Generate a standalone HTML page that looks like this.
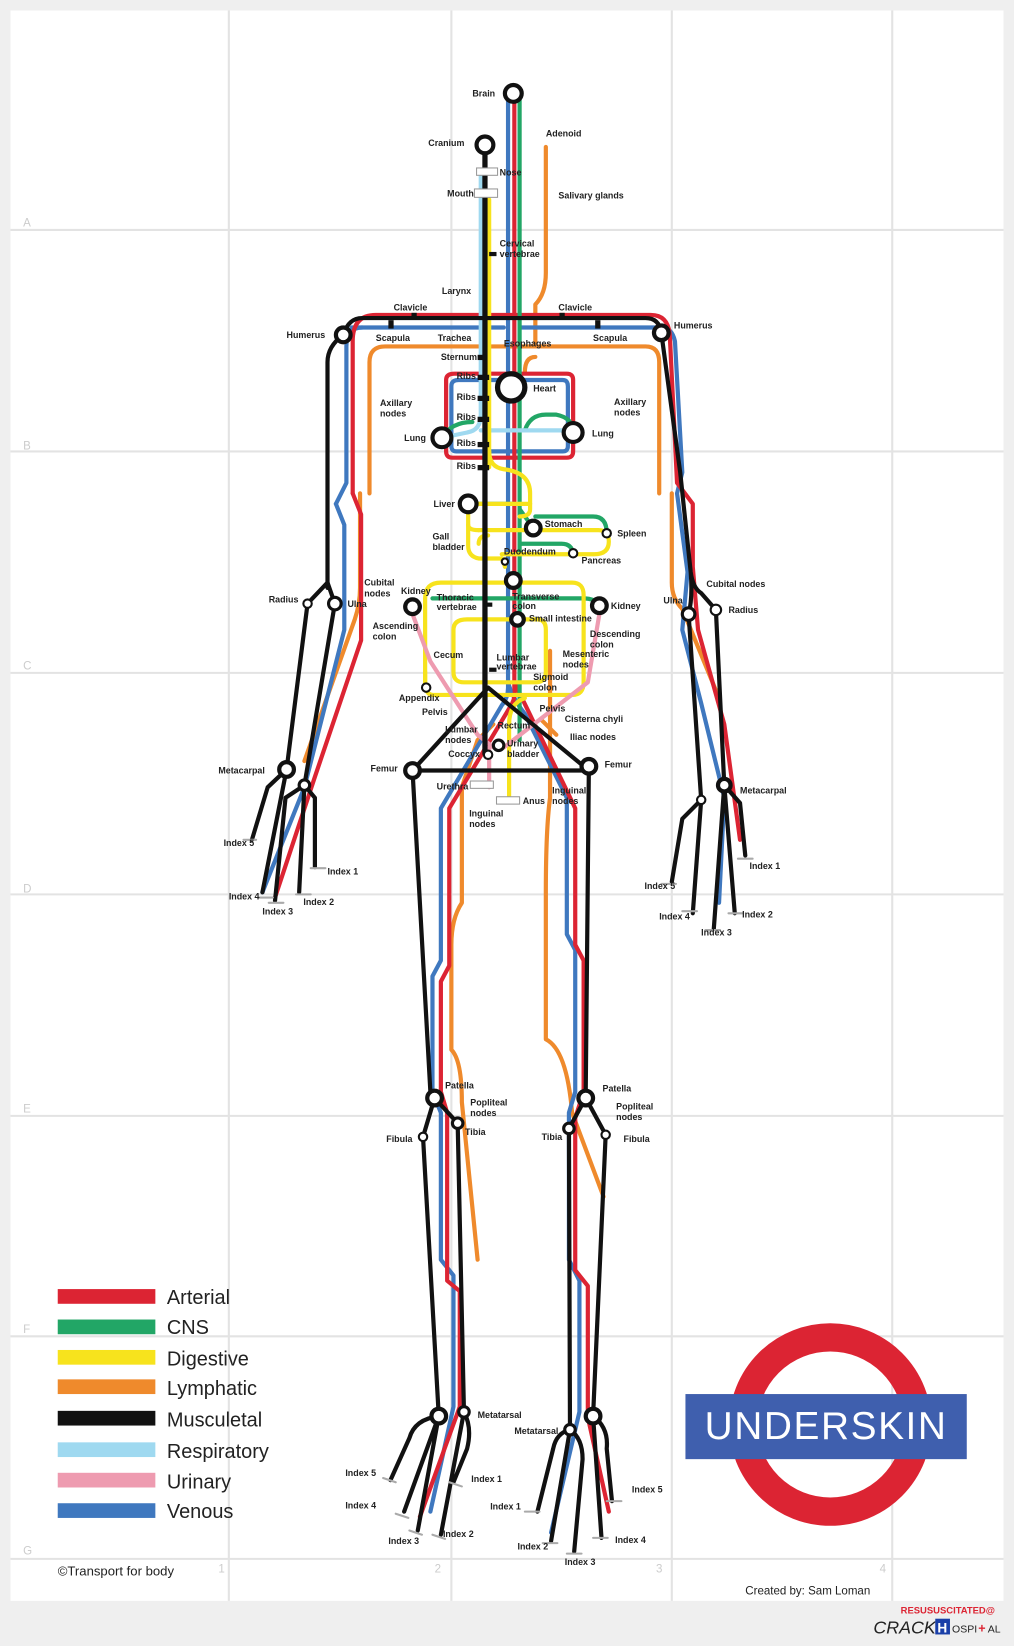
<!DOCTYPE html>
<html><head><meta charset="utf-8"><style>
html,body{margin:0;padding:0;background:#efefef;}
svg{display:block}
text{font-family:"Liberation Sans",sans-serif;}
.l{font-size:8.5px;font-weight:bold;fill:#222}
</style></head><body>
<svg width="1014" height="1646" viewBox="0 0 966 1568" preserveAspectRatio="none" xmlns="http://www.w3.org/2000/svg">
<rect x="0" y="0" width="966" height="1568" fill="#efefef"/>
<rect x="10" y="10" width="946" height="1515" fill="#fff"/>
<g stroke="#e3e3e3" stroke-width="2">
<line x1="218" y1="10" x2="218" y2="1525"/><line x1="430" y1="10" x2="430" y2="1525"/><line x1="640" y1="10" x2="640" y2="1525"/><line x1="850" y1="10" x2="850" y2="1525"/>
<line x1="10" y1="219" x2="956" y2="219"/><line x1="10" y1="430" x2="956" y2="430"/><line x1="10" y1="641" x2="956" y2="641"/><line x1="10" y1="852" x2="956" y2="852"/><line x1="10" y1="1063" x2="956" y2="1063"/><line x1="10" y1="1273" x2="956" y2="1273"/><line x1="10" y1="1485" x2="956" y2="1485"/>
</g>
<g font-size="11" fill="#ccc"><text x="22" y="216">A</text><text x="22" y="428">B</text><text x="22" y="638">C</text><text x="22" y="850">D</text><text x="22" y="1060">E</text><text x="22" y="1270">F</text><text x="22" y="1481">G</text>
<text x="208" y="1498">1</text><text x="414" y="1498">2</text><text x="625" y="1498">3</text><text x="838" y="1498">4</text></g>

<g fill="none" stroke-linecap="round" stroke-linejoin="round" stroke-width="4">
<!-- lymphatic orange -->
<g stroke="#ef8a2c">
<path d="M520,140 V260 Q520,280 510,290 V330"/>
<path d="M352,470 V345 Q352,330 367,330 H615 Q628,330 628,345 V470"/>
<path d="M510,340 Q500,340 500,355"/>
<path d="M343,470 V560 Q343,575 338,590 L290,725"/>
<path d="M640,470 V555 Q640,570 650,580 L685,665"/>
<path d="M524,620 V760 Q520,790 520,850 V990 Q540,1000 545,1060 L575,1140"/>
<path d="M470,690 L455,705 L440,750 V860 Q430,875 430,900 V1000 Q440,1010 440,1050 L455,1200"/>
<path d="M515,685 L530,700"/>
</g>
<!-- venous blue -->
<g stroke="#3f78bf">
<path d="M484,89 V655 Q484,665 478,672 L420,770 V915 L412,930 V1040 L420,1060 V1200 L432,1215 V1340 L410,1440"/>
<path d="M484,650 Q488,665 500,680 L540,760 V890 L548,905 V1040 L542,1060 V1200 L552,1220 V1345 L525,1460"/>
<path d="M335,312 H480 M496,312 H630 Q640,312 643,325 L650,450 L645,470 L655,545 L650,600 L668,670 L690,760 L685,860"/>
<path d="M320,480 L330,460 V330 Q330,312 345,312"/>
<path d="M320,480 L328,500 V600 L290,750 L250,850"/>
<path d="M437,362 H536 Q541,362 541,368 V425 Q541,430 536,430 H435 Q430,430 430,425 V368 Q430,362 437,362"/>
</g>
<!-- arterial red -->
<g stroke="#dc2433">
<path d="M490,89 V655 Q492,665 485,675 L428,770 V920 L420,935 V1040 L426,1060 V1220 L438,1230 V1340 L400,1445"/>
<path d="M490,650 L536,745 L548,770 V900 L556,915 V1040 L548,1065 V1210 L560,1225 V1350 L580,1440"/>
<path d="M336,470 V325 Q336,300 358,300 H620 Q636,300 638,318 L645,460 L660,480 V540 L665,600 L690,690 L705,800"/>
<path d="M336,470 L344,490 V610 L300,740 L262,855"/>
<path d="M433,356 H540 Q546,356 546,362 V430 Q546,436 540,436 H431 Q425,436 425,430 V362 Q425,356 433,356"/>
</g>
<!-- CNS green -->
<g stroke="#22a666">
<path d="M495,89 V705"/>
<path d="M421,417 Q430,402 450,402"/>
<path d="M500,410 Q505,395 520,395 H530 Q546,398 546,412"/>
<path d="M446,480 H490 M495,485 L508,503 M510,492 H565 Q578,492 578,508 M495,518 H535 Q545,518 546,528"/>
<path d="M412,570 H555 Q568,570 571,577"/>
</g>
<!-- respiratory light blue -->
<g stroke="#9fd9f0">
<path d="M458,165 V395 Q458,410 445,412 L421,417"/>
<path d="M458,410 H546"/>
</g>
<!-- digestive yellow -->
<g stroke="#f7e31d">
<path d="M466,190 V430 Q466,445 480,447 Q505,450 505,470 V485 Q505,492 495,492"/>
<path d="M446,480 H505"/>
<path d="M446,480 V520 Q446,530 456,532 H478 Q480,535 481,540"/>
<path d="M465,510 Q456,510 456,518"/>
<path d="M456,505 H570 Q580,505 580,516 Q580,528 566,528 H478"/>
<path d="M446,500 Q446,505 456,505"/>
<path d="M420,555 H545 Q556,555 556,567 V650 Q556,662 545,662 H413 Q405,662 405,650 V570 Q405,555 420,555"/>
<path d="M445,590 H512 Q520,590 520,600 V640 Q520,650 510,650 H442 Q432,650 432,640 V600 Q432,590 445,590"/>
<path d="M405,640 V655 M500,665 Q485,670 485,690 V760"/>
<path d="M466,430 Q466,445 466,445"/>
</g>
<!-- urinary pink -->
<g stroke="#ee9bb0">
<path d="M393,585 L410,630 L455,700 L470,712"/>
<path d="M571,585 L560,650 L480,712"/>
<path d="M466,712 V750"/>
</g>
<!-- musculoskeletal black -->
<g stroke="#111">
<path d="M462,138 V718" stroke-width="5"/>
<path d="M312,560 V345 Q312,330 327,319 M327,319 Q332,303 345,303 H615 Q628,303 630,317"/>
<path d="M630,317 L648,450 L658,545 Q660,560 668,565 L682,581 M658,545 Q660,570 656,585"/>
<path d="M312,555 L293,575 M312,555 L319,575"/>
<path d="M293,575 L273,733 M319,575 L290,748"/>
<path d="M273,733 L255,750 L240,800 M273,733 L250,850 M290,748 L272,760 L262,858 M290,748 L285,850 M290,748 L300,760 L300,826"/>
<path d="M656,585 L668,762 M682,581 L690,748"/>
<path d="M668,762 L650,780 L640,840 M668,762 L660,870 M690,748 L680,885 M690,748 L700,870 M690,748 L705,765 L710,815"/>
<path d="M465,655 L393,734 H561 L465,655"/>
<path d="M393,734 L410,1040 M414,1046 L403,1083 L418,1349 M414,1046 L436,1070 L442,1345"/>
<path d="M561,730 L558,1040 M558,1046 L542,1075 L543,1362 M558,1046 L577,1081 L565,1349"/>
<path d="M418,1349 Q395,1352 390,1370 L372,1410 M418,1349 L385,1440 M418,1349 L398,1458 M442,1345 L420,1462 M442,1345 Q450,1360 445,1380 L432,1412"/>
<path d="M543,1362 Q530,1365 527,1380 L512,1440 M543,1362 L525,1468 M543,1362 Q555,1370 555,1390 L547,1478 M565,1349 L573,1465 M565,1349 Q580,1360 578,1380 L583,1430"/>
</g>
<g stroke="#aaa" stroke-width="2">
<path d="M232,800 h12 M246,855 h14 M256,860 h14 M282,852 h14 M296,827 h14 M630,842 h14 M650,868 h14 M672,886 h14 M694,870 h14 M703,818 h14"/>
<path d="M365,1408 l12,4 M377,1442 l12,4 M390,1458 l12,4 M412,1462 l12,4 M428,1412 l12,4 M500,1440 h14 M517,1470 h14 M540,1480 h14 M565,1465 h14 M578,1430 h14"/>
</g>
</g>

<!-- stations -->
<g fill="#fff" stroke="#111">
<circle cx="489" cy="89" r="8" stroke-width="4"/>
<circle cx="462" cy="138" r="8" stroke-width="4"/>
<circle cx="487" cy="369" r="13" stroke-width="5"/>
<circle cx="421" cy="417" r="9" stroke-width="4"/>
<circle cx="546" cy="412" r="9" stroke-width="4"/>
<circle cx="446" cy="480" r="8" stroke-width="4"/>
<circle cx="508" cy="503" r="7" stroke-width="4"/>
<circle cx="578" cy="508" r="4" stroke-width="2"/>
<circle cx="546" cy="527" r="4" stroke-width="2"/>
<circle cx="481" cy="535" r="3" stroke-width="2"/>
<circle cx="489" cy="553" r="7" stroke-width="4"/>
<circle cx="393" cy="578" r="7" stroke-width="4"/>
<circle cx="571" cy="577" r="7" stroke-width="4"/>
<circle cx="493" cy="590" r="6" stroke-width="4"/>
<circle cx="406" cy="655" r="4" stroke-width="2"/>
<circle cx="475" cy="710" r="5" stroke-width="3"/>
<circle cx="465" cy="719" r="4" stroke-width="2"/>
<circle cx="327" cy="319" r="7" stroke-width="4"/>
<circle cx="630" cy="317" r="7" stroke-width="4"/>
<circle cx="293" cy="575" r="4" stroke-width="2"/>
<circle cx="319" cy="575" r="6" stroke-width="3"/>
<circle cx="656" cy="585" r="6" stroke-width="3"/>
<circle cx="682" cy="581" r="5" stroke-width="2"/>
<circle cx="273" cy="733" r="7" stroke-width="4"/>
<circle cx="290" cy="748" r="5" stroke-width="3"/>
<circle cx="690" cy="748" r="6" stroke-width="4"/>
<circle cx="668" cy="762" r="4" stroke-width="2"/>
<circle cx="393" cy="734" r="7" stroke-width="4"/>
<circle cx="561" cy="730" r="7" stroke-width="4"/>
<circle cx="414" cy="1046" r="7" stroke-width="4"/>
<circle cx="403" cy="1083" r="4" stroke-width="2"/>
<circle cx="436" cy="1070" r="5" stroke-width="3"/>
<circle cx="558" cy="1046" r="7" stroke-width="4"/>
<circle cx="542" cy="1075" r="5" stroke-width="3"/>
<circle cx="577" cy="1081" r="4" stroke-width="2"/>
<circle cx="418" cy="1349" r="7" stroke-width="4"/>
<circle cx="442" cy="1345" r="5" stroke-width="3"/>
<circle cx="543" cy="1362" r="5" stroke-width="3"/>
<circle cx="565" cy="1349" r="7" stroke-width="4"/>
</g>
<g fill="#fff" stroke="#999" stroke-width="1">
<rect x="454" y="160" width="20" height="7"/><rect x="452" y="180" width="22" height="8"/><rect x="448" y="744" width="22" height="7"/><rect x="473" y="759" width="22" height="7"/>
</g>
<g fill="#111">
<rect x="466" y="240" width="7" height="4"/><rect x="370" y="305" width="5" height="8"/><rect x="392" y="298" width="5" height="5"/><rect x="533" y="298" width="5" height="5"/><rect x="567" y="305" width="5" height="8"/>
<rect x="455" y="338" width="8" height="5"/><rect x="455" y="357" width="11" height="5"/><rect x="455" y="377" width="11" height="5"/><rect x="455" y="397" width="11" height="5"/><rect x="455" y="421" width="11" height="5"/><rect x="455" y="443" width="11" height="5"/>
<rect x="462" y="574" width="7" height="4"/><rect x="466" y="636" width="7" height="4"/>
</g>

<g class="l">
<text x="450" y="92">Brain</text><text x="408" y="139">Cranium</text><text x="476" y="167">Nose</text><text x="426" y="187">Mouth</text>
<text x="520" y="130">Adenoid</text><text x="532" y="189">Salivary glands</text>
<text x="476" y="235">Cervical</text><text x="476" y="245">vertebrae</text><text x="421" y="280">Larynx</text>
<text x="375" y="296">Clavicle</text><text x="532" y="296">Clavicle</text><text x="273" y="322">Humerus</text><text x="642" y="313">Humerus</text>
<text x="358" y="325">Scapula</text><text x="417" y="325">Trachea</text><text x="480" y="330">Esophages</text><text x="565" y="325">Scapula</text>
<text x="420" y="343">Sternum</text><text x="435" y="361">Ribs</text><text x="435" y="381">Ribs</text><text x="435" y="400">Ribs</text><text x="435" y="425">Ribs</text><text x="435" y="447">Ribs</text>
<text x="508" y="373">Heart</text><text x="385" y="420">Lung</text><text x="564" y="416">Lung</text>
<text x="362" y="387">Axillary</text><text x="362" y="397">nodes</text><text x="585" y="386">Axillary</text><text x="585" y="396">nodes</text>
<text x="413" y="483">Liver</text><text x="519" y="502">Stomach</text><text x="588" y="511">Spleen</text><text x="412" y="514">Gall</text><text x="412" y="524">bladder</text>
<text x="480" y="528">Duodendum</text><text x="554" y="537">Pancreas</text>
<text x="347" y="558">Cubital</text><text x="347" y="568">nodes</text><text x="256" y="574">Radius</text><text x="331" y="578">Ulna</text>
<text x="673" y="559">Cubital nodes</text><text x="632" y="575">Ulna</text><text x="694" y="584">Radius</text>
<text x="382" y="566">Kidney</text><text x="416" y="572">Thoracic</text><text x="416" y="581">vertebrae</text><text x="488" y="571">Transverse</text><text x="488" y="580">colon</text>
<text x="582" y="580">Kidney</text><text x="504" y="592">Small intestine</text><text x="355" y="599">Ascending</text><text x="355" y="609">colon</text>
<text x="562" y="607">Descending</text><text x="562" y="617">colon</text><text x="413" y="627">Cecum</text><text x="536" y="626">Mesenteric</text><text x="536" y="636">nodes</text>
<text x="473" y="629">Lumbar</text><text x="473" y="638">vertebrae</text><text x="508" y="648">Sigmoid</text><text x="508" y="658">colon</text>
<text x="380" y="668">Appendix</text><text x="402" y="681">Pelvis</text><text x="514" y="678">Pelvis</text><text x="538" y="688">Cisterna chyli</text>
<text x="424" y="698">Lumbar</text><text x="424" y="708">nodes</text><text x="474" y="694">Rectum</text><text x="543" y="705">Iliac nodes</text>
<text x="483" y="711">Urinary</text><text x="483" y="721">bladder</text><text x="427" y="721">Coccyx</text>
<text x="353" y="735">Femur</text><text x="576" y="731">Femur</text><text x="208" y="737">Metacarpal</text><text x="705" y="756">Metacarpal</text>
<text x="416" y="752">Urethra</text><text x="526" y="756">Inguinal</text><text x="526" y="766">nodes</text><text x="498" y="766">Anus</text><text x="447" y="778">Inguinal</text><text x="447" y="788">nodes</text>
<text x="213" y="806">Index 5</text><text x="312" y="833">Index 1</text><text x="218" y="857">Index 4</text><text x="289" y="862">Index 2</text><text x="250" y="871">Index 3</text>
<text x="714" y="828">Index 1</text><text x="614" y="847">Index 5</text><text x="628" y="876">Index 4</text><text x="707" y="874">Index 2</text><text x="668" y="891">Index 3</text>
<text x="424" y="1037">Patella</text><text x="448" y="1053">Popliteal</text><text x="448" y="1063">nodes</text><text x="368" y="1088">Fibula</text><text x="443" y="1081">Tibia</text>
<text x="574" y="1040">Patella</text><text x="587" y="1057">Popliteal</text><text x="587" y="1067">nodes</text><text x="516" y="1086">Tibia</text><text x="594" y="1088">Fibula</text>
<text x="455" y="1351">Metatarsal</text><text x="490" y="1366">Metatarsal</text>
<text x="329" y="1406">Index 5</text><text x="449" y="1412">Index 1</text><text x="329" y="1437">Index 4</text><text x="422" y="1464">Index 2</text><text x="370" y="1471">Index 3</text>
<text x="602" y="1422">Index 5</text><text x="467" y="1438">Index 1</text><text x="586" y="1470">Index 4</text><text x="493" y="1476">Index 2</text><text x="538" y="1491">Index 3</text>
</g>

<!-- legend -->
<g>
<rect x="55" y="1228" width="93" height="14" fill="#dc2433"/><rect x="55" y="1257" width="93" height="14" fill="#22a666"/><rect x="55" y="1286" width="93" height="14" fill="#f7e31d"/><rect x="55" y="1314" width="93" height="14" fill="#ef8a2c"/><rect x="55" y="1344" width="93" height="14" fill="#111"/><rect x="55" y="1374" width="93" height="14" fill="#9fd9f0"/><rect x="55" y="1403" width="93" height="14" fill="#ee9bb0"/><rect x="55" y="1432" width="93" height="14" fill="#3f78bf"/>
</g>
<g font-size="19" fill="#222">
<text x="159" y="1242">Arterial</text><text x="159" y="1271">CNS</text><text x="159" y="1301">Digestive</text><text x="159" y="1329">Lymphatic</text><text x="159" y="1359">Musculetal</text><text x="159" y="1389">Respiratory</text><text x="159" y="1418">Urinary</text><text x="159" y="1446">Venous</text>
</g>
<text x="55" y="1501" font-size="12.5" fill="#222">©Transport for body</text>
<!-- logo -->
<circle cx="791" cy="1357" r="83" fill="none" stroke="#dc2433" stroke-width="27"/>
<rect x="653" y="1328" width="268" height="62" fill="#3f5fae"/>
<text x="787" y="1371" font-size="37" fill="#fff" text-anchor="middle" letter-spacing="1.5">UNDERSKIN</text>
<text x="710" y="1519" font-size="11" fill="#222">Created by: Sam Loman</text>
<text x="858" y="1537" font-size="9" font-weight="bold" fill="#dc2433">RESUSUSCITATED@</text>
<text x="832" y="1556" font-size="17" font-style="italic" fill="#222">CRACK</text>
<rect x="891" y="1542" width="14" height="15" fill="#1a3fa8"/>
<text x="893" y="1555" font-size="13" font-weight="bold" fill="#fff">H</text>
<text x="907" y="1555" font-size="10" fill="#222">OSPI</text><text x="932" y="1555" font-size="12" font-weight="bold" fill="#dc2433">+</text><text x="941" y="1555" font-size="10" fill="#222">AL</text>
</svg>
</body></html>
